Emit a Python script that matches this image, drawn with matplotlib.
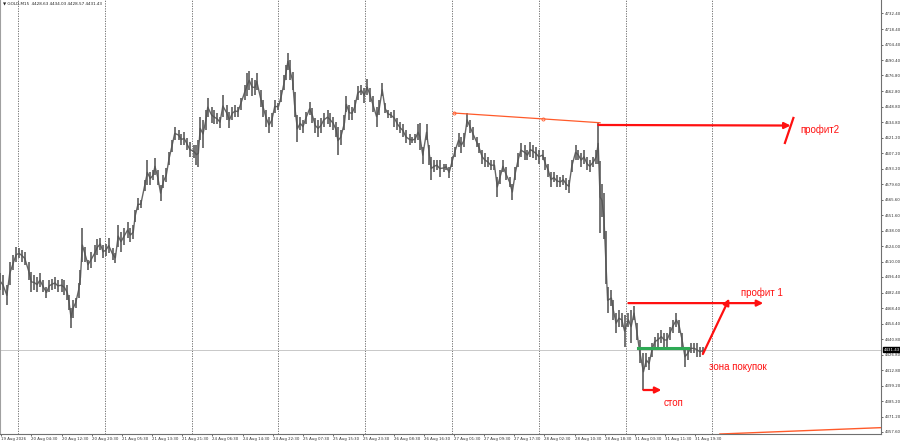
import numpy as np
import matplotlib.pyplot as plt

# Бары M15 (индекс бара), максимумы и минимумы
bars = [0, 3, 7, 10, 14, 17, 20, 23, 26, 30, 33, 36, 39, 42, 45, 49, 52, 55, 58, 61,
        65, 68, 71, 73, 75, 77, 80, 83, 85, 87, 90, 93, 96, 100, 103, 106, 109, 112, 115, 119,
        122, 125, 128, 131, 135, 138, 141, 143, 146, 149, 153, 156, 159, 162, 164, 167, 170, 173, 176, 179,
        182, 185, 189, 192, 195, 198, 201, 205, 208, 210, 212, 215, 218, 220, 224, 227, 230, 233, 236, 240,
        243, 246, 249, 252, 255, 259, 262, 264, 267, 270, 272, 276, 279, 282, 285, 288, 291, 295, 298, 301,
        303, 305, 307, 310, 312, 315, 318, 321, 324, 328, 331, 334, 337, 340, 343, 347, 350, 353, 356, 358,
        361, 365, 367, 370, 373, 376, 379, 383, 386, 389, 392, 395, 399, 402, 405, 408, 411, 414, 418, 421,
        424, 427, 430, 434, 437, 440, 443, 445, 448, 452, 455, 457, 460, 463, 466, 470, 473, 476, 479, 482,
        486, 489, 492, 495, 498, 501, 505, 508, 511, 514, 517, 520, 524, 527, 530, 533, 536, 540, 543, 546,
        549, 552, 556, 559, 562, 565, 568, 571, 575, 578, 581, 584, 587, 590, 594, 597, 600, 603, 606, 610,
        613, 616, 619, 622, 625, 629, 632, 634, 636, 638, 640, 642, 644, 648, 650, 653, 656, 659, 662, 666,
        669, 672, 675, 678, 682, 685, 688, 691, 694, 697, 701, 704, 707, 710, 713, 717, 720, 723, 726, 729,
        732, 736, 739, 742, 745]
highs = [4500, 4498, 4489, 4510, 4516, 4523, 4522, 4521, 4519, 4510, 4501, 4498, 4496, 4500, 4494, 4487, 4494, 4495, 4496, 4494,
         4495, 4494, 4489, 4480, 4469, 4476, 4478, 4491, 4503, 4540, 4523, 4512, 4519, 4525, 4530, 4531, 4525, 4526, 4531, 4522,
         4518, 4543, 4537, 4540, 4546, 4540, 4543, 4556, 4567, 4565, 4583, 4601, 4590, 4592, 4603, 4592, 4579, 4588, 4594, 4608,
         4619, 4631, 4628, 4624, 4626, 4621, 4617, 4615, 4615, 4619, 4640, 4637, 4646, 4657, 4649, 4646, 4643, 4640, 4659, 4650,
         4644, 4649, 4650, 4649, 4657, 4668, 4679, 4681, 4675, 4673, 4679, 4664, 4655, 4646, 4640, 4643, 4655, 4652, 4664, 4677,
         4686, 4697, 4691, 4680, 4662, 4641, 4640, 4637, 4644, 4653, 4648, 4639, 4637, 4639, 4643, 4646, 4643, 4640, 4635, 4631,
         4628, 4641, 4658, 4650, 4649, 4655, 4667, 4668, 4666, 4674, 4666, 4658, 4649, 4655, 4670, 4652, 4646, 4644, 4646, 4639,
         4635, 4633, 4628, 4624, 4622, 4624, 4633, 4634, 4613, 4633, 4615, 4604, 4601, 4601, 4601, 4598, 4598, 4595, 4604, 4613,
         4625, 4622, 4625, 4643, 4637, 4631, 4622, 4616, 4610, 4607, 4604, 4601, 4601, 4586, 4592, 4601, 4595, 4586, 4580, 4595,
         4607, 4616, 4615, 4610, 4617, 4615, 4613, 4610, 4610, 4604, 4598, 4590, 4590, 4588, 4586, 4588, 4585, 4583, 4601, 4615,
         4610, 4607, 4610, 4604, 4601, 4604, 4610, 4634, 4600, 4580, 4572, 4538, 4487, 4485, 4476, 4464, 4467, 4464, 4462, 4464,
         4467, 4470, 4455, 4440, 4428, 4428, 4425, 4437, 4443, 4446, 4449, 4446, 4446, 4452, 4458, 4464, 4458, 4446, 4434, 4434,
         4437, 4437, 4437, 4434, 4434]
lows = [4485, 4480, 4471, 4489, 4503, 4510, 4513, 4510, 4507, 4494, 4483, 4485, 4483, 4487, 4483, 4478, 4483, 4485, 4486, 4483,
        4483, 4480, 4476, 4467, 4451, 4460, 4469, 4478, 4489, 4510, 4510, 4503, 4504, 4510, 4516, 4521, 4513, 4515, 4518, 4512,
        4509, 4523, 4519, 4525, 4531, 4528, 4530, 4546, 4556, 4558, 4573, 4579, 4579, 4583, 4588, 4579, 4564, 4576, 4581, 4597,
        4608, 4619, 4619, 4615, 4615, 4610, 4604, 4603, 4597, 4595, 4619, 4612, 4628, 4640, 4634, 4633, 4633, 4630, 4640, 4637,
        4630, 4637, 4640, 4640, 4646, 4655, 4658, 4664, 4658, 4659, 4664, 4649, 4640, 4631, 4625, 4631, 4643, 4646, 4653, 4664,
        4673, 4682, 4673, 4664, 4640, 4617, 4628, 4625, 4633, 4641, 4634, 4625, 4622, 4625, 4631, 4633, 4631, 4628, 4622, 4606,
        4615, 4628, 4644, 4637, 4637, 4643, 4655, 4659, 4652, 4659, 4653, 4644, 4631, 4641, 4658, 4643, 4639, 4639, 4631, 4628,
        4625, 4622, 4616, 4615, 4616, 4616, 4619, 4610, 4598, 4619, 4597, 4583, 4590, 4592, 4586, 4590, 4592, 4585, 4595, 4604,
        4613, 4607, 4613, 4631, 4625, 4619, 4613, 4607, 4598, 4595, 4595, 4592, 4592, 4568, 4580, 4590, 4583, 4577, 4565, 4583,
        4595, 4604, 4601, 4601, 4604, 4603, 4601, 4598, 4601, 4592, 4586, 4577, 4581, 4577, 4577, 4579, 4574, 4572, 4590, 4601,
        4601, 4595, 4598, 4592, 4590, 4595, 4598, 4598, 4536, 4550, 4530, 4490, 4464, 4470, 4458, 4446, 4452, 4452, 4434, 4452,
        4437, 4458, 4440, 4419, 4395, 4416, 4413, 4425, 4434, 4434, 4437, 4434, 4434, 4440, 4446, 4452, 4446, 4434, 4416, 4422,
        4428, 4428, 4425, 4425, 4427]

# Шкала цен справа
price_ticks = [4732.40, 4718.40, 4704.40, 4690.40, 4676.80, 4662.80, 4648.80, 4634.80, 4621.20, 4607.20,
               4593.20, 4579.60, 4565.60, 4551.60, 4538.00, 4524.00, 4510.00, 4496.40, 4482.40, 4468.40,
               4454.40, 4440.80, 4426.80, 4412.80, 4399.20, 4385.20, 4371.20, 4357.60]

# Метки времени (каждые 32 бара)
time_labels = ["19 Aug 2026", "20 Aug 04:30", "20 Aug 12:30", "20 Aug 20:30", "21 Aug 05:30",
               "21 Aug 13:30", "21 Aug 21:30", "24 Aug 06:30", "24 Aug 14:30", "24 Aug 22:30",
               "25 Aug 07:30", "25 Aug 15:30", "25 Aug 23:30", "26 Aug 08:30", "26 Aug 16:30",
               "27 Aug 01:30", "27 Aug 09:30", "27 Aug 17:30", "28 Aug 02:30", "28 Aug 10:30",
               "28 Aug 18:30", "31 Aug 03:30", "31 Aug 11:30", "31 Aug 19:30"]
time_ticks = [1 + 32 * k for k in range(len(time_labels))]
day_starts = [19 + 92 * k for k in range(9)]

bid = 4431.43
header = "GOLD,M15  4428.63 4434.03 4428.57 4431.43"

# Уровни разметки
profit2 = 4632.5
profit1 = 4473.0
buy_zone = 4432.8
stop = 4395.2

red = "#ff1010"
fig = plt.figure(figsize=(9, 4.45), dpi=100)
ax = fig.add_axes([0.0, 0.0247, 0.979, 0.9753])

ax.set_xlim(-0.3, 934)
ax.set_ylim(4355.8, 4744.4)

# Разделители дней
for d in day_starts:
    ax.axvline(d, color="#606060", lw=0.6, ls=(0, (1.5, 1.5)), zorder=1)

# Линия текущей цены
ax.axhline(bid, color="#c8c8c8", lw=0.7, zorder=1)

# Бары и связующая линия
mids = [(h + l) / 2 for h, l in zip(highs, lows)]
ax.plot(bars, mids, color="#666666", lw=1.0, zorder=2)
ax.vlines(bars, lows, highs, color="#555555", lw=1.15, zorder=3)

# Трендовая линия
ax.plot([481, 576, 636], [4643.2, 4637.9, 4634.5], color="#ff5a2a", lw=0.9, zorder=4)
ax.plot([481, 576], [4643.2, 4637.9], "o", ms=2.2, mfc="none", mec="#ff5a2a", mew=0.6, zorder=4)
ax.plot([763, 934], [4355.8, 4361.5], color="#ff5a2a", lw=1.0, zorder=4)

# Стрелки
arrow = dict(arrowstyle="-|>", color=red, lw=1.6, mutation_scale=9, shrinkA=0, shrinkB=0)
ax.annotate("", xy=(838, profit2 - 0.5), xytext=(634, profit2), arrowprops=arrow, zorder=5)
ax.plot([832, 841], [4616.4, 4638.8], color=red, lw=1.6, zorder=5)
ax.annotate("", xy=(809, profit1), xytext=(666, profit1), arrowprops=arrow, zorder=5)
ax.annotate("", xy=(773, 4477.0), xytext=(745, 4427.4), arrowprops=arrow, zorder=5)
ax.annotate("", xy=(701, stop), xytext=(682, stop), arrowprops=arrow, zorder=5)
ax.plot([676, 729], [buy_zone, buy_zone], color="#2eaa55", lw=2.2, zorder=5)

tfont = dict(color=red, fontsize=7, family="Liberation Sans")
ax.text(848, 4628, "профит2", va="center", **tfont)
ax.text(785, 4482, "профит 1", va="center", **tfont)
ax.text(751, 4415.7, "зона покупок", va="center", **tfont)
ax.text(703, 4383.5, "стоп", va="center", **tfont)

# Заголовок
ax.text(3, 4741.0, "\u25bc " + header, fontsize=3.0, va="center", color="#202020")

# Оси
ax.spines["top"].set_visible(False)
ax.spines["left"].set_color("#a0a0a0")
ax.spines["left"].set_linewidth(1.5)
ax.spines["right"].set_color("#707070")
ax.spines["bottom"].set_color("#707070")
ax.spines["right"].set_linewidth(0.8)
ax.spines["bottom"].set_linewidth(0.8)

ax.yaxis.tick_right()
ax.set_yticks(price_ticks)
ax.set_yticklabels([f"{p:.2f}" for p in price_ticks])
ax.set_xticks(time_ticks)
ax.set_xticklabels(time_labels, ha="left")
ax.tick_params(axis="both", labelsize=2.8, length=1.5, width=0.5, pad=0.8, colors="#303030")

# Метка текущей цены
ax.text(1.003, bid, f"{bid:.2f}", transform=ax.get_yaxis_transform(), fontsize=2.8,
        color="white", va="center", ha="left",
        bbox=dict(boxstyle="square,pad=0.15", fc="black", ec="black"), zorder=6, clip_on=False)

plt.savefig("out.png", dpi=100)
